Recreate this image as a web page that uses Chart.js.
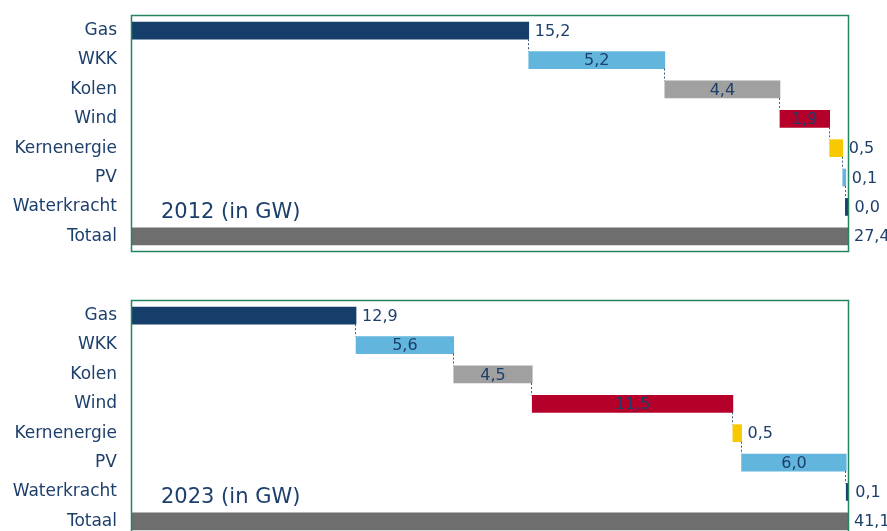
<!DOCTYPE html>
<html>
<head>
<meta charset="utf-8">
<script src="https://cdn.jsdelivr.net/npm/chart.js@4.4.1/dist/chart.umd.min.js"></script>
<style>
html, body { margin: 0; padding: 0; background: #fff; overflow: hidden; }
.wrap { position: absolute; left: 0; width: 887px; height: 266px; }
#w2012 { top: 0; }
#w2023 { top: 285px; }
</style>
</head>
<body>
<div class="wrap" id="w2012"><canvas id="chart2012" width="887" height="266"></canvas></div>
<div class="wrap" id="w2023"><canvas id="chart2023" width="887" height="266"></canvas></div>
<script>
const categories = ['Gas', 'WKK', 'Kolen', 'Wind', 'Kernenergie', 'PV', 'Waterkracht', 'Totaal'];
const values2012 = [15.2, 5.2, 4.4, 1.9, 0.5, 0.1, 0.0];
const total2012 = 27.4;
const values2023 = [12.9, 5.6, 4.5, 11.5, 0.5, 6.0, 0.1];
const total2023 = 41.1;
const barColors = ['#153e6a', '#62b5dc', '#a0a0a0', '#b5002a', '#f8c800', '#62b5dc', '#153e6a', '#6e6e6e'];

const textColor = '#1d3f6c';
const boxColor = '#23865c';
const fontFamily = '"DejaVu Sans", sans-serif';

function fmt(v) {
    return v.toFixed(1).replace('.', ',');
}

// running start/end for each step, total bar from 0
function waterfall(values, total) {
    const ranges = [];
    let sum = 0;
    values.forEach(v => {
        ranges.push([sum, sum + v]);
        sum += v;
    });
    ranges.push([0, total]);
    return ranges;
}

const decorPlugin = {
    id: 'decor',
    afterDatasetsDraw(chart, args, opts) {
        const ctx = chart.ctx;
        const area = chart.chartArea;
        const meta = chart.getDatasetMeta(0);
        const bars = meta.data.map(el => el.getProps(['x', 'y', 'base', 'height'], true));
        const raw = chart.data.datasets[0].labelValues;
        ctx.save();

        // dotted connectors between the steps
        ctx.strokeStyle = '#3d5a82';
        ctx.lineWidth = 1;
        ctx.setLineDash([2, 2]);
        for (let i = 0; i < bars.length - 2; i++) {
            const b = bars[i], n = bars[i + 1];
            const x = Math.round(Math.max(b.x, b.base)) - 0.5;
            ctx.beginPath();
            ctx.moveTo(x, b.y + b.height / 2);
            ctx.lineTo(x, n.y - n.height / 2);
            ctx.stroke();
        }
        ctx.setLineDash([]);

        // value labels
        ctx.font = '16px ' + fontFamily;
        ctx.fillStyle = textColor;
        ctx.textBaseline = 'middle';
        bars.forEach((b, i) => {
            const left = Math.min(b.x, b.base), right = Math.max(b.x, b.base);
            const w = right - left;
            const outside = i === 0 || i === bars.length - 1 || w < 40;
            if (outside) {
                ctx.textAlign = 'left';
                ctx.fillText(fmt(raw[i]), right + 6, b.y + 1);
            } else {
                ctx.textAlign = 'center';
                ctx.fillText(fmt(raw[i]), (left + right) / 2, b.y + 1);
            }
        });

        // title inside the plot
        ctx.font = '21px ' + fontFamily;
        ctx.textAlign = 'left';
        ctx.textBaseline = 'alphabetic';
        const yTitle = chart.scales.y.getPixelForValue(6) + 11;
        ctx.fillText(opts.title, area.left + 30, yTitle);

        // frame
        ctx.strokeStyle = boxColor;
        ctx.lineWidth = 1.5;
        ctx.strokeRect(area.left + 0.5, area.top - 0.5, area.right - area.left, area.bottom - area.top + 1);
        ctx.restore();
    }
};

function createWaterfall(canvasId, values, total, title) {
    const ctx = document.getElementById(canvasId);
    return new Chart(ctx, {
        type: 'bar',
        data: {
            labels: categories,
            datasets: [{
                data: waterfall(values, total),
                labelValues: values.concat([total]),
                backgroundColor: barColors,
                borderWidth: 0,
                barThickness: 17,
                minBarLength: 3
            }]
        },
        options: {
            indexAxis: 'y',
            responsive: false,
            animation: false,
            devicePixelRatio: 1,
            layout: { padding: { top: 16, bottom: 15, right: 39, left: 0 } },
            plugins: {
                legend: { display: false },
                tooltip: { enabled: false },
                decor: { title }
            },
            scales: {
                x: { display: false, min: 0, max: total },
                y: {
                    grid: { display: false, drawTicks: false },
                    border: { display: false },
                    ticks: { color: textColor, font: { family: fontFamily, size: 17 }, padding: 14 },
                    afterFit(scale) {
                        scale.width = 131;
                        scale.paddingTop = 0;
                        scale.paddingBottom = 0;
                    }
                }
            }
        },
        plugins: [decorPlugin]
    });
}

createWaterfall('chart2012', values2012, total2012, '2012 (in GW)');
createWaterfall('chart2023', values2023, total2023, '2023 (in GW)');
</script>
</body>
</html>
